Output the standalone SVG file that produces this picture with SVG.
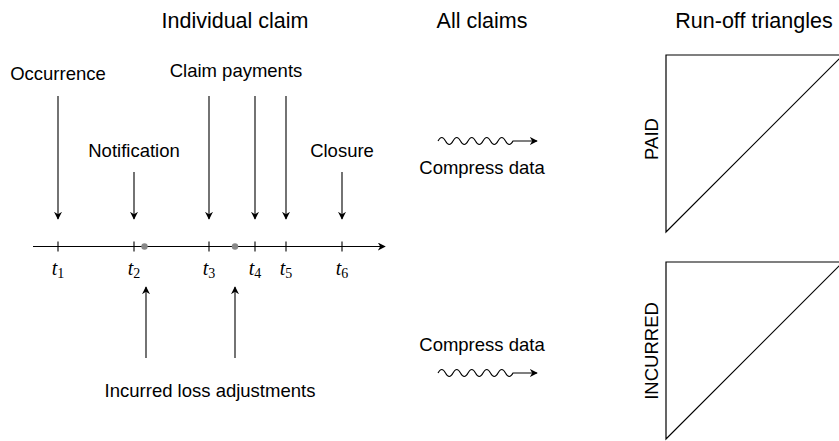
<svg xmlns="http://www.w3.org/2000/svg" width="839" height="441" viewBox="0 0 839 441">
<defs>
<style>
text{font-family:"Liberation Sans","DejaVu Sans",sans-serif;fill:#000;}
.h{font-size:21.5px;text-anchor:middle;}
.l{font-size:18.5px;text-anchor:middle;}
.t{font-family:"Liberation Serif",serif;font-style:italic;font-size:20px;text-anchor:middle;}
.t tspan{font-style:normal;font-size:14px;}
.ln{stroke:#000;stroke-width:1.1;fill:none;}
.tri{stroke:#000;stroke-width:1.2;fill:#fff;}
</style>
<marker id="ah" viewBox="0 0 10 10" refX="9" refY="5" markerWidth="8" markerHeight="8" markerUnits="userSpaceOnUse" orient="auto">
<path d="M0,0 L10,5 L0,10 L3,5 Z" fill="#000"/>
</marker>
</defs>

<g id="titles">
<text class="h" x="235" y="28">Individual claim</text>
<text class="h" x="482" y="28">All claims</text>
<text class="h" x="754" y="28">Run-off triangles</text>
</g>

<g id="connectors">
<line class="ln" x1="33" y1="246.5" x2="385" y2="246.5" marker-end="url(#ah)"/>
<line class="ln" x1="58" y1="96" x2="58" y2="219" marker-end="url(#ah)"/>
<line class="ln" x1="134" y1="172" x2="134" y2="219" marker-end="url(#ah)"/>
<line class="ln" x1="209" y1="96" x2="209" y2="219" marker-end="url(#ah)"/>
<line class="ln" x1="255" y1="96" x2="255" y2="219" marker-end="url(#ah)"/>
<line class="ln" x1="286" y1="96" x2="286" y2="219" marker-end="url(#ah)"/>
<line class="ln" x1="342" y1="172" x2="342" y2="219" marker-end="url(#ah)"/>
<line class="ln" x1="146" y1="358" x2="146" y2="287" marker-end="url(#ah)"/>
<line class="ln" x1="235" y1="358" x2="235" y2="287" marker-end="url(#ah)"/>
<path class="ln" d="M438,141 q3.75,-7 7.5,0 q3.75,7 7.5,0 q3.75,-7 7.5,0 q3.75,7 7.5,0 q3.75,-7 7.5,0 q3.75,7 7.5,0 q3.75,-7 7.5,0 q3.75,7 7.5,0 q3.75,-7 7.5,0 q3.75,7 7.5,0 L537,141" marker-end="url(#ah)"/>
<path class="ln" d="M438,373 q3.75,-7 7.5,0 q3.75,7 7.5,0 q3.75,-7 7.5,0 q3.75,7 7.5,0 q3.75,-7 7.5,0 q3.75,7 7.5,0 q3.75,-7 7.5,0 q3.75,7 7.5,0 q3.75,-7 7.5,0 q3.75,7 7.5,0 L537,373" marker-end="url(#ah)"/>
</g>

<g id="ticks">
<path class="ln" d="M58,241.5v10 M134,241.5v10 M209,241.5v10 M255,241.5v10 M286,241.5v10 M342,241.5v10"/>
<circle cx="144.5" cy="246.5" r="3.2" fill="#888"/>
<circle cx="235" cy="246.5" r="3.2" fill="#888"/>
<text class="t" x="58" y="275">t<tspan dy="3">1</tspan></text>
<text class="t" x="134" y="275">t<tspan dy="3">2</tspan></text>
<text class="t" x="209" y="275">t<tspan dy="3">3</tspan></text>
<text class="t" x="255" y="275">t<tspan dy="3">4</tspan></text>
<text class="t" x="286" y="275">t<tspan dy="3">5</tspan></text>
<text class="t" x="342" y="275">t<tspan dy="3">6</tspan></text>
</g>

<g id="occurrence"><text class="l" x="58" y="80">Occurrence</text></g>
<g id="notification"><text class="l" x="134" y="157">Notification</text></g>
<g id="claim-payments"><text class="l" x="236" y="77">Claim payments</text></g>
<g id="closure"><text class="l" x="342" y="157">Closure</text></g>
<g id="incurred-loss"><text class="l" x="210" y="397">Incurred loss adjustments</text></g>
<g id="compress-top"><text class="l" x="482" y="174">Compress data</text></g>
<g id="compress-bottom"><text class="l" x="482" y="351">Compress data</text></g>

<g id="paid-triangle">
<path class="tri" d="M666,55 L843,55 L666,232 Z"/>
<text class="l" transform="translate(658,139) rotate(-90)">PAID</text>
</g>
<g id="incurred-triangle">
<path class="tri" d="M666,262 L843,262 L666,439 Z"/>
<text class="l" transform="translate(658,351) rotate(-90)">INCURRED</text>
</g>
</svg>
